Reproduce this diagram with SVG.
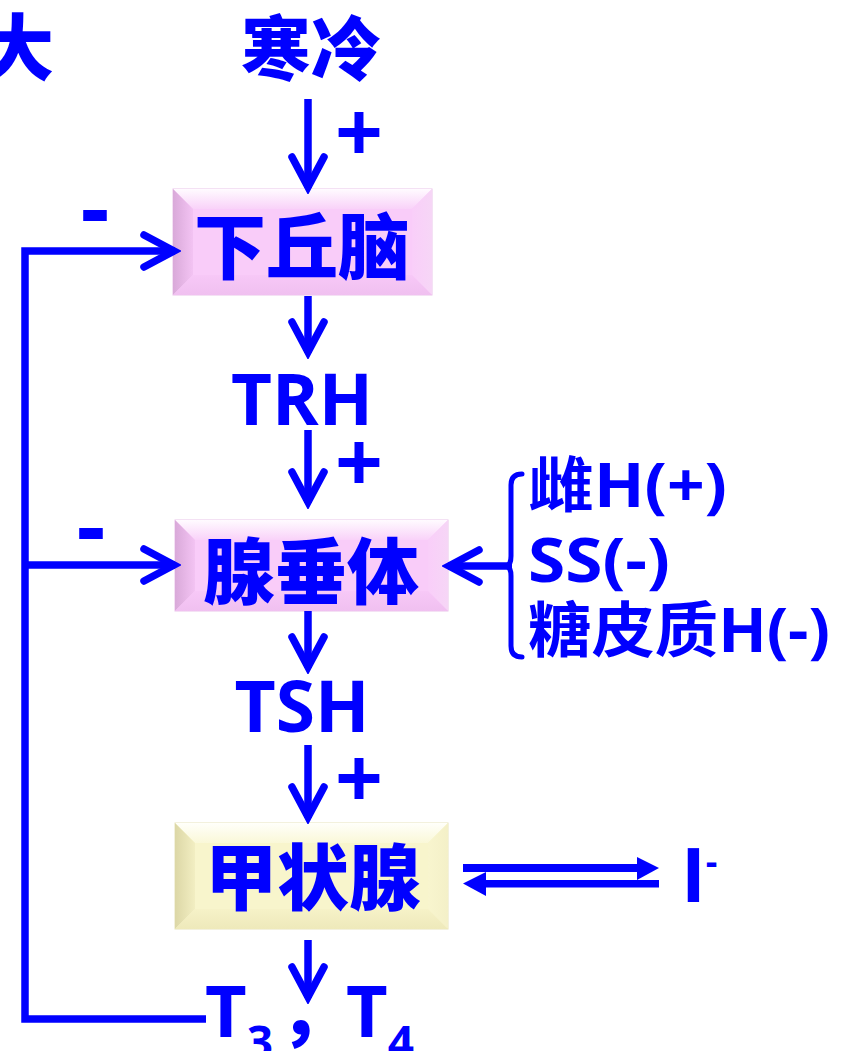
<svg xmlns="http://www.w3.org/2000/svg" width="847" height="1051" viewBox="0 0 847 1051">
<style>
.t{font-family:"Open Sans","Noto Sans CJK SC",sans-serif;font-weight:700;fill:#0000FF}
.c{font-family:"Noto Sans CJK SC",sans-serif;font-weight:900;fill:#0000FF}
.ln{fill:none;stroke:#0000FF;stroke-width:7.5;stroke-linecap:butt;stroke-linejoin:miter}
.ar{fill:none;stroke:#0000FF;stroke-width:7.5;stroke-linecap:butt}
.br{fill:none;stroke:#0000FF;stroke-width:5;stroke-linecap:round}
.fb{fill:#0000FF}
</style>
<defs>
<marker id="chev" viewBox="-40 -22 46 44" refX="0" refY="0" markerWidth="46" markerHeight="44" markerUnits="userSpaceOnUse" orient="auto">
<path d="M-31,-16 L-1,0 L-31,16" fill="none" stroke="#0000FF" stroke-width="7.5" stroke-linecap="round" stroke-linejoin="miter"/>
</marker>
<linearGradient id="pTop" x1="0" y1="0" x2="0" y2="1"><stop offset="0" stop-color="#FFFBFF"/><stop offset="1" stop-color="#F9D2F9"/></linearGradient>
<linearGradient id="pLeft" x1="0" y1="0" x2="1" y2="0"><stop offset="0" stop-color="#D9A9D9"/><stop offset="1" stop-color="#F3C3F3"/></linearGradient>
<linearGradient id="pRight" x1="0" y1="0" x2="1" y2="0"><stop offset="0" stop-color="#F9CEF9"/><stop offset="1" stop-color="#F6D6F6"/></linearGradient>
<linearGradient id="pBot" x1="0" y1="0" x2="0" y2="1"><stop offset="0" stop-color="#F7C8F7"/><stop offset="1" stop-color="#F0C0F0"/></linearGradient>
<linearGradient id="yTop" x1="0" y1="0" x2="0" y2="1"><stop offset="0" stop-color="#FFFFFA"/><stop offset="1" stop-color="#FAF8D8"/></linearGradient>
<linearGradient id="yLeft" x1="0" y1="0" x2="1" y2="0"><stop offset="0" stop-color="#DCD7A6"/><stop offset="1" stop-color="#F2EEC2"/></linearGradient>
<linearGradient id="yRight" x1="0" y1="0" x2="1" y2="0"><stop offset="0" stop-color="#F8F5CE"/><stop offset="1" stop-color="#F4F0C8"/></linearGradient>
<linearGradient id="yBot" x1="0" y1="0" x2="0" y2="1"><stop offset="0" stop-color="#F6F2C8"/><stop offset="1" stop-color="#EEE9BA"/></linearGradient>
</defs>

<text class="c" x="-18" y="74" font-size="72">大</text>

<g id="cold">
<text class="c" x="311" y="75" font-size="70" text-anchor="middle">寒冷</text>
</g>

<g id="hypothalamus">
<rect x="173" y="189" width="259" height="106" fill="#F9CCF9" stroke="#EAC4EA" stroke-width="1"/>
<polygon points="173,189 432,189 412,209 193,209" fill="url(#pTop)"/>
<polygon points="173,189 193,209 193,275 173,295" fill="url(#pLeft)"/>
<polygon points="432,189 432,295 412,275 412,209" fill="url(#pRight)"/>
<polygon points="173,295 193,275 412,275 432,295" fill="url(#pBot)"/>
<text class="c" x="302" y="273" font-size="72" text-anchor="middle">下丘脑</text>
</g>

<g id="trh"><text class="t" x="302" y="425" font-size="72" text-anchor="middle" textLength="142" lengthAdjust="spacingAndGlyphs">TRH</text></g>

<g id="pituitary">
<rect x="175" y="520" width="273" height="91" fill="#F9CCF9" stroke="#EAC4EA" stroke-width="1"/>
<polygon points="175,520 448,520 428,540 195,540" fill="url(#pTop)"/>
<polygon points="175,520 195,540 195,591 175,611" fill="url(#pLeft)"/>
<polygon points="448,520 448,611 428,591 428,540" fill="url(#pRight)"/>
<polygon points="175,611 195,591 428,591 448,611" fill="url(#pBot)"/>
<text class="c" x="311" y="598" font-size="72" text-anchor="middle">腺垂体</text>
</g>

<g id="tsh"><text class="t" x="302" y="732" font-size="72" text-anchor="middle" textLength="135" lengthAdjust="spacingAndGlyphs">TSH</text></g>

<g id="thyroid">
<rect x="175" y="823" width="273" height="106" fill="#F8F5CC" stroke="#E8E4BC" stroke-width="1"/>
<polygon points="175,823 448,823 428,843 195,843" fill="url(#yTop)"/>
<polygon points="175,823 195,843 195,909 175,929" fill="url(#yLeft)"/>
<polygon points="448,823 448,929 428,909 428,843" fill="url(#yRight)"/>
<polygon points="175,929 195,909 428,909 448,929" fill="url(#yBot)"/>
<text class="c" x="313" y="904" font-size="72" text-anchor="middle">甲状腺</text>
</g>

<g id="modulators">
<text class="t" x="528" y="507" font-size="60" textLength="199" lengthAdjust="spacingAndGlyphs">雌H(+)</text>
<text class="t" x="528" y="582" font-size="60" textLength="142" lengthAdjust="spacingAndGlyphs">SS(-)</text>
<text class="t" x="528" y="652" font-size="60" textLength="302" lengthAdjust="spacingAndGlyphs">糖皮质H(-)</text>
</g>

<g id="iodide">
<text class="t" x="681" y="902" font-size="75">I<tspan font-size="36" dy="-28">-</tspan></text>
</g>

<g id="t3t4">
<text class="t" font-size="72" x="205" y="1037">T<tspan font-size="46" dy="22">3</tspan><tspan class="c" font-size="72" x="279" dy="-22">，</tspan><tspan x="346">T</tspan><tspan font-size="46" dy="22">4</tspan></text>
</g>

<g id="signs">
<text class="t" x="359" y="162" font-size="84" text-anchor="middle">+</text>
<text class="t" x="359" y="492" font-size="84" text-anchor="middle">+</text>
<text class="t" x="359" y="808" font-size="84" text-anchor="middle">+</text>
<text class="t" x="95" y="240" font-size="90" text-anchor="middle">-</text>
<text class="t" x="91" y="558" font-size="90" text-anchor="middle">-</text>
</g>

<g id="connectors">
<line class="ar" x1="308" y1="99" x2="308" y2="188" marker-end="url(#chev)"/>
<line class="ar" x1="308" y1="296" x2="308" y2="353" marker-end="url(#chev)"/>
<line class="ar" x1="308" y1="430" x2="308" y2="503" marker-end="url(#chev)"/>
<line class="ar" x1="308" y1="611" x2="308" y2="668" marker-end="url(#chev)"/>
<line class="ar" x1="308" y1="745" x2="308" y2="818" marker-end="url(#chev)"/>
<line class="ar" x1="308" y1="940" x2="308" y2="998" marker-end="url(#chev)"/>
<path class="ln" d="M206,1019 L25,1019 L25,251 L175,251" marker-end="url(#chev)"/>
<line class="ar" x1="25" y1="565" x2="175" y2="565" marker-end="url(#chev)"/>
<line class="ar" x1="512" y1="566" x2="448" y2="566" marker-end="url(#chev)"/>
<path class="br" d="M522,474 Q511,474 511,485 L511,556 Q511,566 505,566 Q511,566 511,576 L511,646 Q511,657 522,657"/>
<rect class="fb" x="463" y="864" width="176" height="8"/>
<polygon class="fb" points="637,857 659,868 637,880"/>
<rect class="fb" x="484" y="880" width="175" height="7.5"/>
<polygon class="fb" points="486,872 463,883.5 486,896"/>
</g>
</svg>
